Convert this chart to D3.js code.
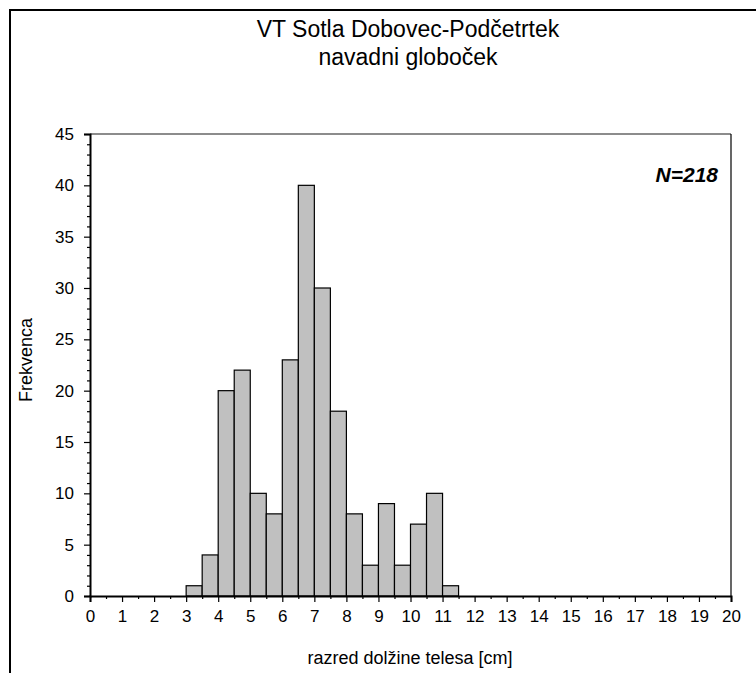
<!DOCTYPE html>
<html>
<head>
<meta charset="utf-8">
<script src="https://cdn.jsdelivr.net/npm/d3@7"></script>
<style>
  html, body { margin: 0; padding: 0; background: #fff; }
  svg { display: block; font-family: "Liberation Sans", Arial, sans-serif; }
</style>
</head>
<body>
<svg id="chart" width="756" height="673"></svg>
<script>
// ---- data ----
const titleLines = ["VT Sotla Dobovec-Podčetrtek", "navadni globoček"];
const xLabel = "razred dolžine telesa [cm]";
const yLabel = "Frekvenca";
const annotation = "N=218";
const binStarts = [3, 3.5, 4, 4.5, 5, 5.5, 6, 6.5, 7, 7.5, 8, 8.5, 9, 9.5, 10, 10.5, 11];
const counts    = [1, 4, 20, 22, 10, 8, 23, 40, 30, 18, 8, 3, 9, 3, 7, 10, 1];
const binWidth = 0.5;
const xTickValues = [0,1,2,3,4,5,6,7,8,9,10,11,12,13,14,15,16,17,18,19,20];
const xMinorValues = [0.5,1.5,2.5,3.5,4.5,5.5,6.5,7.5,8.5,9.5,10.5,11.5,12.5,13.5,14.5,15.5,16.5,17.5,18.5,19.5];
const yTickValues = [0,5,10,15,20,25,30,35,40,45];

// ---- layout ----
const svg = d3.select("#chart");
const L = 90, R = 731, T = 134, B = 596;
const x = d3.scaleLinear().domain([0, 20]).range([L, R]);
const y = d3.scaleLinear().domain([0, 45]).range([B, T]);

// outer frame (extends past right/bottom)
svg.append("rect").attr("x", 10).attr("y", 10).attr("width", 800).attr("height", 700)
  .attr("fill", "none").attr("stroke", "#000").attr("stroke-width", 2);

// title
svg.append("text").attr("x", 408).attr("y", 37).attr("text-anchor", "middle")
  .attr("font-size", 23).text(titleLines[0]);
svg.append("text").attr("x", 408).attr("y", 65).attr("text-anchor", "middle")
  .attr("font-size", 23).text(titleLines[1]);

// plot frame top & right
svg.append("line").attr("x1", L).attr("x2", R).attr("y1", T).attr("y2", T)
  .attr("stroke", "#666").attr("stroke-width", 1.5);
svg.append("line").attr("x1", R).attr("x2", R).attr("y1", T).attr("y2", B)
  .attr("stroke", "#000").attr("stroke-width", 1.2);

// bars
svg.append("g").selectAll("rect").data(binStarts).join("rect")
  .attr("x", (d) => x(d))
  .attr("width", (d) => x(d + binWidth) - x(d))
  .attr("y", (d, i) => y(counts[i]))
  .attr("height", (d, i) => y(0) - y(counts[i]))
  .attr("fill", "#c0c0c0").attr("stroke", "#000").attr("stroke-width", 1.2);

// x axis
const xAxis = svg.append("g").attr("transform", `translate(0,${B})`)
  .call(d3.axisBottom(x).tickValues(xTickValues).tickSize(6).tickPadding(8).tickFormat(d3.format("d")));
svg.append("g").attr("transform", `translate(0,${B})`)
  .call(d3.axisBottom(x).tickValues(xMinorValues).tickSize(3).tickFormat(""))
  .call(g => g.select(".domain").remove());
// y axis
const yAxis = svg.append("g").attr("transform", `translate(${L},0)`)
  .call(d3.axisLeft(y).tickValues(yTickValues).tickSize(6).tickPadding(10).tickFormat(d3.format("d")));
svg.append("g").attr("transform", `translate(${L},0)`)
  .call(d3.axisLeft(y).tickValues(d3.range(0, 46).filter(v => v % 5 !== 0)).tickSize(3).tickFormat(""))
  .call(g => g.select(".domain").remove());

svg.selectAll(".domain").attr("stroke", "#000").attr("stroke-width", 2);
svg.selectAll(".tick line").attr("stroke", "#000").attr("stroke-width", 1.2);
xAxis.selectAll(".tick text").attr("font-size", 17).attr("fill", "#000")
  .attr("font-family", "'Liberation Sans', Arial, sans-serif");
yAxis.selectAll(".tick text").attr("font-size", 17).attr("fill", "#000")
  .attr("font-family", "'Liberation Sans', Arial, sans-serif");

// axis labels
svg.append("text").attr("x", 410).attr("y", 664).attr("text-anchor", "middle")
  .attr("font-size", 18).text(xLabel);
svg.append("text").attr("transform", "translate(32,360) rotate(-90)")
  .attr("text-anchor", "middle").attr("font-size", 18).text(yLabel);

// annotation
svg.append("text").attr("x", 718).attr("y", 182).attr("text-anchor", "end")
  .attr("font-size", 21).attr("font-weight", "bold").attr("font-style", "italic")
  .text(annotation);
</script>
</body>
</html>
